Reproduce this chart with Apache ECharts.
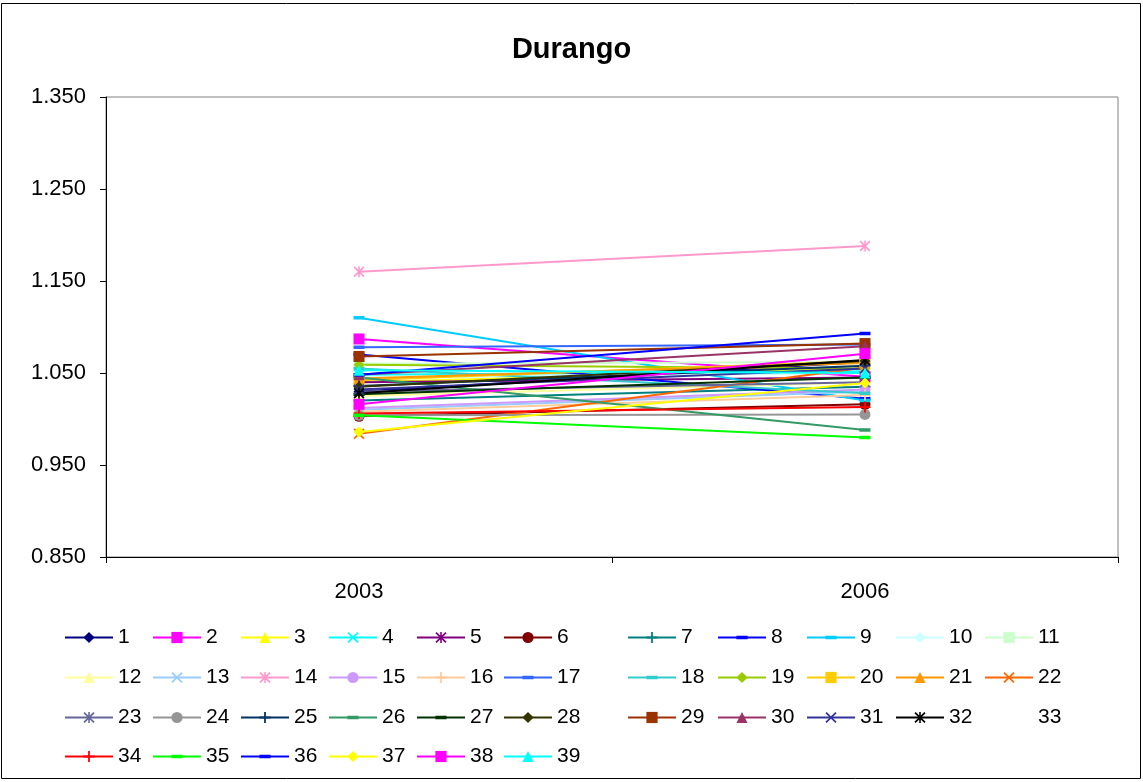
<!DOCTYPE html>
<html><head><meta charset="utf-8">
<script src="https://cdn.jsdelivr.net/npm/echarts@6/dist/echarts.min.js"></script>
<style>html,body{margin:0;padding:0;background:#fff}#c{width:1143px;height:782px}</style>
</head><body><div id="c"></div>
<script>
const title = 'Durango';
const categories = ['2003', '2006'];
const seriesNames = ['1','2','3','4','5','6','7','8','9','10','11','12','13','14','15','16','17','18','19','20','21','22','23','24','25','26','27','28','29','30','31','32','33','34','35','36','37','38','39'];
const values2003 = [1.030,1.087,1.040,1.048,1.040,1.003,1.020,1.070,1.110,1.045,1.060,1.025,1.010,1.160,1.012,1.008,1.078,1.055,1.059,1.042,1.044,0.984,1.030,1.004,1.036,1.045,1.027,1.035,1.068,1.048,1.032,1.028,null,1.006,1.004,1.048,0.986,1.016,1.053];
const values2006 = [1.062,1.046,1.055,1.052,1.045,1.016,1.035,1.022,1.020,1.050,1.062,1.040,1.030,1.188,1.032,1.026,1.081,1.028,1.055,1.063,1.061,1.056,1.040,1.005,1.058,0.988,1.045,1.063,1.082,1.079,1.055,1.064,null,1.013,0.980,1.093,1.039,1.071,1.050];
const colors = ['#000080','#FF00FF','#FFFF00','#00FFFF','#800080','#800000','#008080','#0000FF','#00CCFF','#CCFFFF','#CCFFCC','#FFFF99','#99CCFF','#FF99CC','#CC99FF','#FFCC99','#3366FF','#33CCCC','#99CC00','#FFCC00','#FF9900','#FF6600','#666699','#969696','#003366','#339966','#003300','#333300','#993300','#993366','#333399','#000000','#FFFFFF','#FF0000','#00FF00','#0000FF','#FFFF00','#FF00FF','#00FFFF'];

const SYM = {
  diamond: 'diamond',
  square: 'rect',
  triangle: 'triangle',
  circle: 'circle',
  x: 'path://M0,1.1L1.1,0L5,3.9L8.9,0L10,1.1L6.1,5L10,8.9L8.9,10L5,6.1L1.1,10L0,8.9L3.9,5Z',
  star: 'path://M0,1.1L1.1,0L5,3.9L8.9,0L10,1.1L6.1,5L10,8.9L8.9,10L5,6.1L1.1,10L0,8.9L3.9,5Z M4.3,0H5.7V10H4.3Z',
  plus: 'path://M4.2,0H5.8V4.2H10V5.8H5.8V10H4.2V5.8H0V4.2H4.2Z',
  dash: 'path://M0,0h0.01v0.01z M10,10h0.01v0.01z M0,3.4H10V6.6H0Z'
};
const markerCycle = ['diamond','square','triangle','x','star','circle','plus','dash','dash'];

const colX = [64,152,240,328,416,503,627,717,806,895,984];
const rowY = [627,667,707,746];
const FONT = 'Liberation Sans, Arial, sans-serif';

const series = seriesNames.map((n, i) => ({
  type: 'line',
  name: n,
  data: [values2003[i], values2006[i]],
  symbol: SYM[markerCycle[i % 9]],
  symbolSize: 11,
  lineStyle: { width: 2, color: colors[i] },
  itemStyle: { color: colors[i], borderWidth: 0 },
  emphasis: { disabled: true },
  animation: false
}));

const legends = seriesNames.map((n, i) => ({
  data: [n],
  left: colX[i % 11],
  top: rowY[Math.floor(i / 11)],
  padding: 0,
  itemWidth: 48,
  itemHeight: 14,
  selectedMode: false,
  textStyle: { fontSize: 21, color: '#000', fontFamily: FONT }
}));

const chart = echarts.init(document.getElementById('c'));
chart.setOption({
  animation: false,
  backgroundColor: '#fff',
  title: { text: title, left: 'center', top: 30, textStyle: { fontSize: 29, fontWeight: 'bold', color: '#000', fontFamily: FONT } },
  graphic: [{ type: 'rect', shape: { x: 1.5, y: 3.5, width: 1139, height: 775 }, style: { fill: null, stroke: '#000', lineWidth: 1 }, silent: true }],
  grid: { left: 106, top: 97, right: 25, bottom: 225, show: true, borderColor: '#808080', borderWidth: 1, backgroundColor: '#fff' },
  legend: legends,
  xAxis: {
    type: 'category', data: categories, boundaryGap: true,
    axisLine: { lineStyle: { color: '#000', width: 1 } },
    axisTick: { show: true, length: 6, alignWithLabel: false, lineStyle: { color: '#000' } },
    axisLabel: { margin: 24, fontSize: 22, color: '#000', fontFamily: FONT },
    splitLine: { show: false }
  },
  yAxis: {
    type: 'value', min: 0.85, max: 1.35, interval: 0.1,
    axisLine: { show: true, lineStyle: { color: '#000', width: 1 } },
    axisTick: { show: true, length: 6, lineStyle: { color: '#000' } },
    axisLabel: { margin: 20, fontSize: 22, color: '#000', fontFamily: FONT, formatter: v => v.toFixed(3) },
    splitLine: { show: false }
  },
  series: series
});
</script></body></html>
